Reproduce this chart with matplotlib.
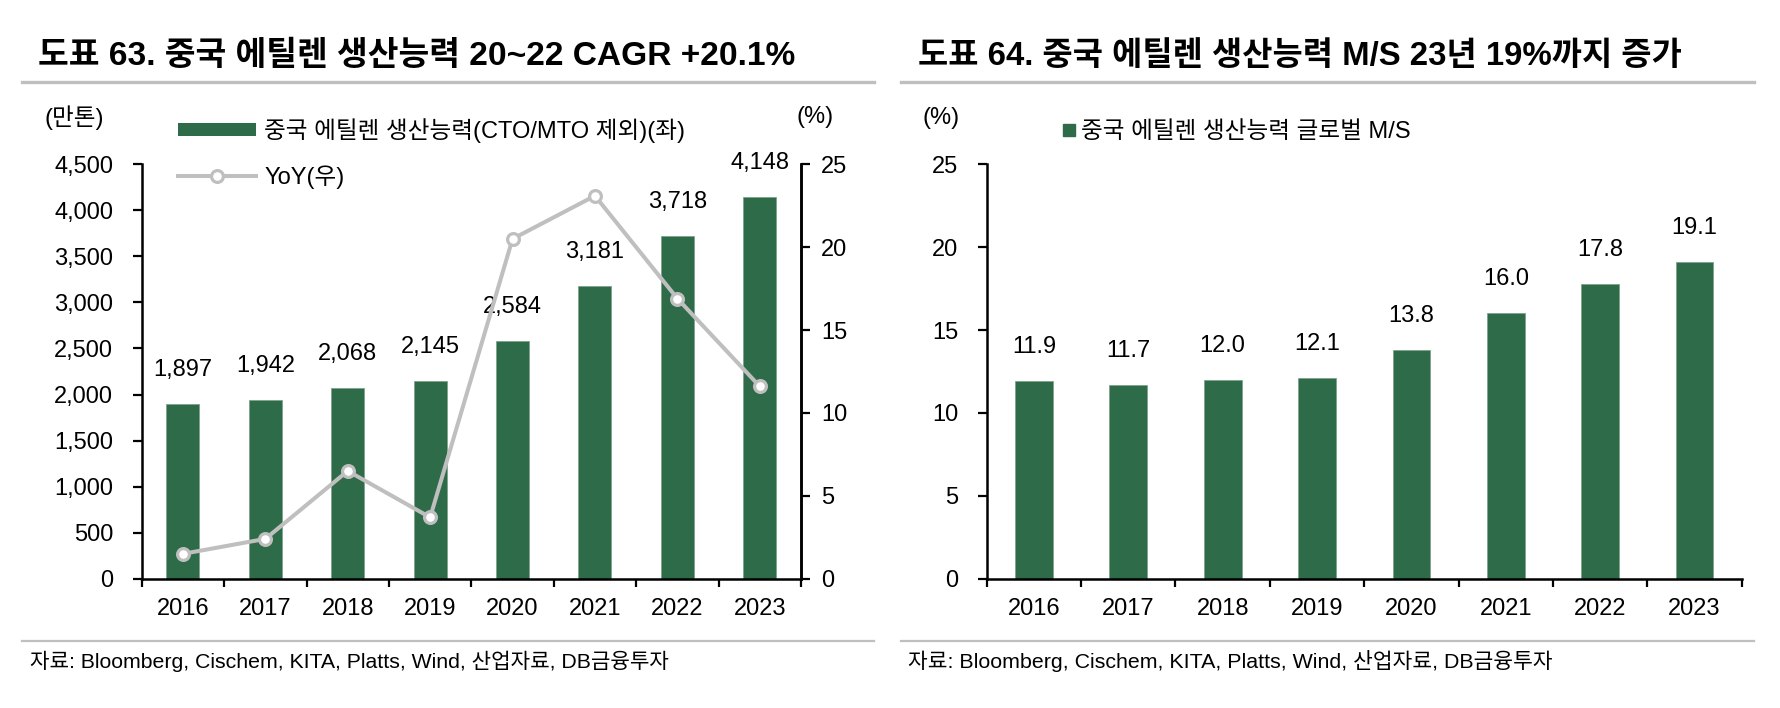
import matplotlib
matplotlib.use("Agg")
import matplotlib.pyplot as plt
import numpy as np
from matplotlib.lines import Line2D
from matplotlib.patches import Patch
from matplotlib.ticker import FuncFormatter, MultipleLocator, FixedLocator

plt.rcParams['font.family'] = ['Liberation Sans', 'Noto Sans CJK KR']
plt.rcParams['axes.unicode_minus'] = False

# ---------------- data ----------------
years = ['2016', '2017', '2018', '2019', '2020', '2021', '2022', '2023']
capacity = [1897, 1942, 2068, 2145, 2584, 3181, 3718, 4148]       # 만톤
yoy = [1.5, 2.4, 6.5, 3.7, 20.5, 23.1, 16.9, 11.6]                  # %
share = [11.9, 11.7, 12.0, 12.1, 13.8, 16.0, 17.8, 19.1]            # %

title_left = '도표 63. 중국 에틸렌 생산능력 20~22 CAGR +20.1%'
title_right = '도표 64. 중국 에틸렌 생산능력 M/S 23년 19%까지 증가'
legend_cap = '중국 에틸렌 생산능력(CTO/MTO 제외)(좌)'
legend_yoy = 'YoY(우)'
legend_share = '중국 에틸렌 생산능력 글로벌 M/S'
unit_left = '(만톤)'
unit_pct = '(%)'
source = '자료: Bloomberg, Cischem, KITA, Platts, Wind, 산업자료, DB금융투자'

# ---------------- style ----------------
W, H = 1780, 708
GREEN = '#2E6B48'
GRAY = '#BFBFBF'
FS = 17
fig = plt.figure(figsize=(W / 100, H / 100), dpi=100)


def fx(px):
    return px / W


def fy(py):
    return 1 - py / H


def style_axis(ax, right_spine=False):
    ax.spines['top'].set_visible(False)
    ax.spines['right'].set_visible(right_spine)
    for s in ['left', 'bottom', 'right']:
        ax.spines[s].set_linewidth(1.8)
        ax.spines[s].set_color('black')
    n = len(years)
    ax.set_xlim(-0.5, n - 0.5)
    ax.set_xticks(range(n))
    ax.set_xticklabels(years, fontsize=FS)
    ax.xaxis.set_minor_locator(FixedLocator(np.arange(-0.5, n, 1.0)))
    ax.tick_params(axis='x', which='major', length=0, pad=14)
    ax.tick_params(axis='x', which='minor', length=6, width=1.6, direction='out')
    ax.tick_params(axis='y', which='major', length=6.5, width=1.6, direction='out',
                   labelsize=FS, pad=14)


# ---------------- left chart ----------------
axL = fig.add_axes([fx(141.7), fy(578.7), fx(801 - 141.7), (578.7 - 164.3) / H])
x = np.arange(len(years))
axL.bar(x, capacity, width=0.4, color=GREEN, edgecolor='#7FA38D', linewidth=0.6, zorder=2)
axL.set_ylim(0, 4500)
axL.yaxis.set_major_locator(MultipleLocator(500))
axL.yaxis.set_major_formatter(FuncFormatter(lambda v, p: f'{int(v):,}'))
style_axis(axL, right_spine=True)
for xi, v in zip(x, capacity):
    axL.annotate(f'{v:,}', (xi, v), xytext=(0, 24.5), textcoords='offset points',
                 ha='center', va='center', fontsize=FS)

axR = axL.twinx()
axR.plot(x, yoy, color=GRAY, linewidth=2.9, marker='o', markersize=8.5,
         markerfacecolor='white', markeredgecolor=GRAY, markeredgewidth=2.3, zorder=3)
axR.set_ylim(0, 25)
axR.yaxis.set_major_locator(MultipleLocator(5))
axR.spines['top'].set_visible(False)
axR.spines['right'].set_linewidth(1.8)
axR.spines['left'].set_visible(False)
axR.spines['bottom'].set_visible(False)
axR.tick_params(axis='y', length=6.5, width=1.6, direction='out', labelsize=FS, pad=8)

handles = [Patch(facecolor=GREEN, edgecolor='none'),
           Line2D([0], [0], color=GRAY, linewidth=2.9, marker='o', markersize=8.5,
                  markerfacecolor='white', markeredgecolor=GRAY, markeredgewidth=2.3)]
fig.legend(handles, [legend_cap, legend_yoy], loc='upper left',
           bbox_to_anchor=(fx(178), fy(118)), bbox_transform=fig.transFigure,
           frameon=False, fontsize=FS, handlelength=3.3, handleheight=0.5,
           handletextpad=0.35, labelspacing=0.95, borderpad=0, borderaxespad=0)

fig.text(fx(74), fy(118), unit_left, ha='center', va='center', fontsize=FS)
fig.text(fx(815), fy(117), unit_pct, ha='center', va='center', fontsize=FS)

# ---------------- right chart ----------------
ax2 = fig.add_axes([fx(986.7), fy(578.7), fx(1741.7 - 986.7), (578.7 - 164.3) / H])
ax2.bar(x, share, width=0.4, color=GREEN, edgecolor='#7FA38D', linewidth=0.6, zorder=2)
ax2.set_ylim(0, 25)
ax2.yaxis.set_major_locator(MultipleLocator(5))
style_axis(ax2, right_spine=False)
for xi, v in zip(x, share):
    ax2.annotate(f'{v:.1f}', (xi, v), xytext=(0, 24.5), textcoords='offset points',
                 ha='center', va='center', fontsize=FS)

h2 = [Line2D([0], [0], linestyle='none', marker='s', markersize=8, color=GREEN)]
fig.legend(h2, [legend_share], loc='upper left',
           bbox_to_anchor=(fx(1063), fy(121)), bbox_transform=fig.transFigure,
           frameon=False, fontsize=FS, handlelength=0.5, handletextpad=0.25,
           borderpad=0, borderaxespad=0)
fig.text(fx(941), fy(118), unit_pct, ha='center', va='center', fontsize=FS)

# ---------------- titles, separators, sources ----------------
renderer = fig.canvas.get_renderer()


def fit(t, target_px):
    bb = t.get_window_extent(renderer)
    t.set_fontsize(t.get_fontsize() * target_px / bb.width)


tL = fig.text(fx(38), fy(65), title_left, ha='left', va='baseline', fontsize=23,
              fontweight='bold')
tR = fig.text(fx(918), fy(65), title_right, ha='left', va='baseline', fontsize=23,
              fontweight='bold')
fit(tL, 757)
fit(tR, 762)

for (x0, x1) in [(22, 874), (901, 1754)]:
    fig.add_artist(Line2D([fx(x0), fx(x1)], [fy(82), fy(82)], color=GRAY, linewidth=2.4,
                          transform=fig.transFigure))
    fig.add_artist(Line2D([fx(x0), fx(x1)], [fy(640.5), fy(640.5)], color=GRAY,
                          linewidth=1.6, transform=fig.transFigure))

sL = fig.text(fx(30), fy(668), source, ha='left', va='baseline', fontsize=15)
sR = fig.text(fx(908), fy(668), source, ha='left', va='baseline', fontsize=15)
fit(sL, 640)
fit(sR, 645)

fig.savefig('out.png', dpi=100)
